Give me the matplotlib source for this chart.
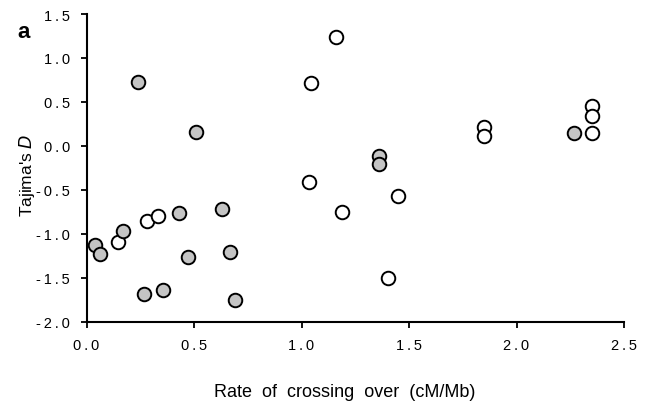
import matplotlib

matplotlib.use("Agg")
import matplotlib.pyplot as plt  # noqa: E402

# grey (filled) loci
filled_x = [0.04, 0.063, 0.168, 0.267, 0.355, 0.428, 0.472, 0.630, 0.667, 0.689,
            0.239, 0.507, 1.359, 1.359, 2.268]
filled_y = [-1.13, -1.23, -0.965, -1.69, -1.636, -0.768, -1.26, -0.715, -1.21, -1.754,
            0.73, 0.161, -0.115, -0.206, 0.15]

# open loci
open_x = [0.146, 0.281, 0.332, 1.045, 1.037, 1.161, 1.447, 1.849, 1.849,
          2.349, 2.349, 2.349, 1.187, 1.402]
open_y = [-1.094, -0.851, -0.798, 0.715, -0.415, 1.242, -0.565, 0.211, 0.116,
          0.457, 0.336, 0.15, -0.753, -1.507]

xticks = [0.0, 0.5, 1.0, 1.5, 2.0, 2.5]
yticks = [-2.0, -1.5, -1.0, -0.5, 0.0, 0.5, 1.0, 1.5]


def spaced(v):
    return "\u2009".join(f"{v:.1f}")


plt.rcParams["font.family"] = ["Liberation Sans", "DejaVu Sans"]

fig = plt.figure(figsize=(6.47, 4.06), dpi=100)
ax = fig.add_axes([0.1337, 0.2052, 0.8308, 0.7578])

ax.scatter(open_x, open_y, s=95, facecolor="white", edgecolor="black",
           linewidth=1.4, zorder=3, clip_on=False)
ax.scatter(filled_x, filled_y, s=95, facecolor="#c4c4c4", edgecolor="black",
           linewidth=1.4, zorder=4, clip_on=False)

ax.set_xlim(0, 2.5)
ax.set_ylim(-2.0, 1.5)
ax.set_xticks(xticks)
ax.set_xticklabels([spaced(v) for v in xticks])
ax.set_yticks(yticks)
ax.set_yticklabels([spaced(v) for v in yticks])
ax.tick_params(direction="out", length=4, width=1.3, labelsize=10.5, pad=8)

for side in ("top", "right"):
    ax.spines[side].set_visible(False)
for side in ("left", "bottom"):
    ax.spines[side].set_linewidth(1.5)

ax.set_xlabel("Rate  of  crossing  over  (cM/Mb)", fontsize=13)
ax.xaxis.set_label_coords(0.48, -0.198)
ax.set_ylabel("Tajima's $\\it{D}$", fontsize=12.5)
ax.yaxis.set_label_coords(-0.092, 0.48)

fig.text(0.036, 0.92, "a", fontsize=16, fontweight="bold", ha="center", va="center")

fig.savefig("out.png", dpi=100)
plt.close(fig)
